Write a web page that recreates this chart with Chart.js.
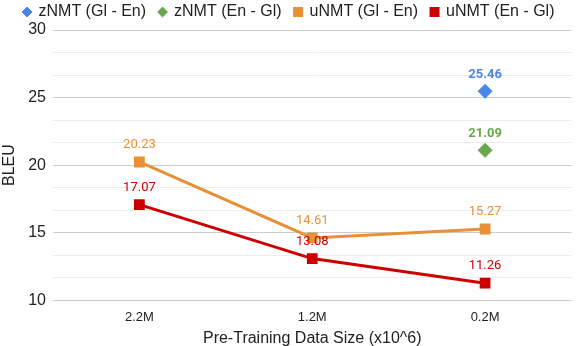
<!DOCTYPE html>
<html>
<head>
<meta charset="utf-8">
<script src="https://cdn.jsdelivr.net/npm/chart.js@4"></script>
<style>
  body { margin: 0; background: #fff; }
  #wrap { width: 580px; height: 346px; }
</style>
</head>
<body>
<div id="wrap"><canvas id="chart"></canvas></div>
<script>
// data
const categories = ["2.2M", "1.2M", "0.2M"];
const zGlEn = [null, null, 25.46];
const zEnGl = [null, null, 21.09];
const uGlEn = [20.23, 14.61, 15.27];
const uEnGl = [17.07, 13.08, 11.26];
const yMajorTicks = [10, 15, 20, 25, 30];
const minorPerMajor = 3;

const fontFam = "'Liberation Sans', Arial, sans-serif";

// tick list with 2 minor lines between each major one
function buildTicks() {
  let out = [];
  for (let i = 0; i < yMajorTicks.length; i++) {
    out.push({ value: yMajorTicks[i], major: true });
    if (i < yMajorTicks.length - 1) {
      const step = (yMajorTicks[i + 1] - yMajorTicks[i]) / minorPerMajor;
      for (let k = 1; k < minorPerMajor; k++) {
        out.push({ value: yMajorTicks[i] + step * k, major: false });
      }
    }
  }
  return out;
}

// value labels above the points
const labelPlugin = {
  id: "valueLabels",
  afterDatasetsDraw(chart) {
    const ctx = chart.ctx;
    chart.data.datasets.forEach((ds, i) => {
      const meta = chart.getDatasetMeta(i);
      meta.data.forEach((pt, j) => {
        const v = ds.data[j];
        if (v === null) return;
        ctx.save();
        ctx.fillStyle = ds.labelColor;
        ctx.font = (ds.labelBold ? "bold " : "") + "13px Roboto";
        ctx.textAlign = "center";
        ctx.textBaseline = "middle";
        ctx.fillText(v.toFixed(2), pt.x, pt.y - 17);
        ctx.restore();
      });
    });
  }
};

new Chart(document.getElementById("chart"), {
  type: "line",
  data: {
    labels: categories,
    datasets: [
      {
        label: "zNMT (Gl - En)", data: zGlEn,
        borderColor: "#4a86e8", backgroundColor: "#4a86e8",
        pointStyle: "rectRot", pointRadius: 7, showLine: false,
        labelColor: "#4a86e8", labelBold: true
      },
      {
        label: "zNMT (En - Gl)", data: zEnGl,
        borderColor: "#6aa84f", backgroundColor: "#6aa84f",
        pointStyle: "rectRot", pointRadius: 7, showLine: false,
        labelColor: "#6aa84f", labelBold: true
      },
      {
        label: "uNMT (Gl - En)", data: uGlEn,
        borderColor: "#e69138", backgroundColor: "#e69138",
        pointStyle: "rect", pointRadius: 5.5, borderWidth: 3,
        labelColor: "#e69138", labelBold: false
      },
      {
        label: "uNMT (En - Gl)", data: uEnGl,
        borderColor: "#cc0000", backgroundColor: "#cc0000",
        pointStyle: "rect", pointRadius: 5.5, borderWidth: 3,
        labelColor: "#cc0000", labelBold: false
      }
    ]
  },
  options: {
    responsive: true,
    maintainAspectRatio: false,
    animation: false,
    layout: { padding: { left: 0, right: 2, top: -9, bottom: 0 } },
    plugins: {
      legend: {
        position: "top",
        labels: {
          usePointStyle: true,
          boxWidth: 7, boxHeight: 7,
          padding: 13,
          color: "#222",
          font: { family: fontFam, size: 16 }
        }
      },
      tooltip: { enabled: false }
    },
    scales: {
      x: {
        offset: true,
        grid: { display: false },
        border: { display: false },
        ticks: { color: "#222", font: { family: fontFam, size: 13 }, padding: 1 },
        title: {
          display: true, text: "Pre-Training Data Size (x10^6)",
          color: "#222", font: { family: fontFam, size: 16 },
          padding: { top: 3, bottom: -2 }
        }
      },
      y: {
        min: 10, max: 30,
        afterBuildTicks(scale) { scale.ticks = buildTicks(); },
        border: { display: false },
        grid: {
          drawTicks: false,
          color: c => (c.tick && c.tick.major) ? "#cccccc" : "#ececec",
          lineWidth: 1
        },
        ticks: {
          color: "#222", padding: 7, autoSkip: false,
          font: { family: fontFam, size: 16 },
          callback: function (v, i, ticks) { return ticks[i].major ? String(v) : ""; }
        },
        title: {
          display: true, text: "BLEU",
          color: "#222", font: { family: fontFam, size: 16 },
          padding: { top: 0, bottom: 2 }
        }
      }
    }
  },
  plugins: [labelPlugin]
});
</script>
</body>
</html>
